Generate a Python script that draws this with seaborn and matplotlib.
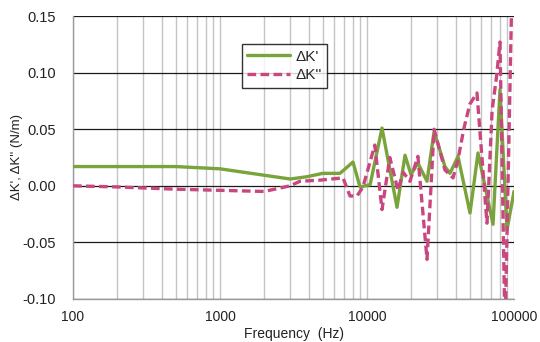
import matplotlib
matplotlib.use("Agg")
import matplotlib.pyplot as plt
import seaborn as sns
import pandas as pd
import numpy as np
from matplotlib.ticker import FixedLocator, FixedFormatter, LogLocator, NullFormatter

# ---- data ----
freq_k1 = [100, 500, 1000, 3000, 3900, 5000, 6550, 8030, 8960, 10500, 12650, 16000,
           18140, 19900, 22200, 25600, 28600, 33900, 36700, 41600, 50200, 56900,
           72000, 80300, 89600, 100000]
dk1 = [0.017, 0.017, 0.015, 0.006, 0.008, 0.011, 0.011, 0.021, -0.001, 0.001, 0.051, -0.019,
       0.027, 0.010, 0.020, 0.004, 0.048, 0.017, 0.011, 0.026, -0.024, 0.029,
       -0.034, 0.085, -0.039, -0.005]

freq_k2 = [100, 200, 500, 1000, 2000, 3000, 3500, 4800, 6870, 7660, 8550, 9390, 11300,
           12650, 14300, 16250, 17600, 19600, 22200, 25600, 28600, 33900, 38500, 41600,
           45500, 50000, 56000, 65500, 71000, 76000, 80300, 86900, 96500]
dk2 = [0.0, -0.001, -0.003, -0.004, -0.005, 0.0, 0.004, 0.005, 0.007, -0.009, -0.009, -0.001, 0.036,
       -0.021, 0.025, -0.004, 0.012, 0.004, 0.026, -0.065, 0.050, 0.014, 0.007, 0.023,
       0.050, 0.072, 0.082, -0.033, 0.067, 0.096, 0.127, -0.13, 0.165]

series_names = ["\u0394K'", "\u0394K''"]
x_ticks = [100, 1000, 10000, 100000]
x_tick_labels = ["100", "1000", "10000", "100000"]
y_ticks = [-0.10, -0.05, 0.00, 0.05, 0.10, 0.15]
y_tick_labels = ["-0.10", "-0.05", "0.00", "0.05", "0.10", "0.15"]

df = pd.concat([
    pd.DataFrame({"f": freq_k1, "v": dk1, "s": series_names[0]}),
    pd.DataFrame({"f": freq_k2, "v": dk2, "s": series_names[1]}),
], ignore_index=True)

sns.set_style("white")
plt.rcParams["font.family"] = ["Liberation Sans", "DejaVu Sans"]

fig = plt.figure(figsize=(5.4, 3.42), dpi=100)
ax = fig.add_axes([73/540, 1-299/342, (514-73)/540, (299-16)/342])

green = "#79A33B"
magenta = "#C9477F"

sns.lineplot(data=df, x="f", y="v", hue="s", style="s",
             palette={series_names[0]: green, series_names[1]: magenta},
             dashes={series_names[0]: "", series_names[1]: (2.6, 1.3)},
             linewidth=2.4, estimator=None, sort=False, ax=ax, zorder=3)

ax.set_xscale("log")
ax.set_xlim(100, 100000)
ax.set_ylim(-0.10, 0.15)

ax.xaxis.set_major_locator(FixedLocator(x_ticks))
ax.xaxis.set_major_formatter(FixedFormatter(x_tick_labels))
ax.xaxis.set_minor_locator(LogLocator(base=10, subs=np.arange(2, 10)))
ax.xaxis.set_minor_formatter(NullFormatter())
ax.yaxis.set_major_locator(FixedLocator(y_ticks))
ax.yaxis.set_major_formatter(FixedFormatter(y_tick_labels))

ax.grid(True, which="both", axis="x", color="#c4c4c4", linewidth=1.0)
ax.grid(True, which="major", axis="y", color="#1a1a1a", linewidth=0.9)
ax.set_axisbelow(True)

for side in ["top", "right"]:
    ax.spines[side].set_visible(False)
for side in ["left", "bottom"]:
    ax.spines[side].set_color("#9a9a9a")
    ax.spines[side].set_linewidth(1.0)

ax.tick_params(axis="y", which="major", direction="out", length=4, color="#9a9a9a",
               labelsize=10.5, labelcolor="#222222", pad=8)
ax.tick_params(axis="x", which="minor", length=0)
ax.tick_params(axis="x", which="major", length=0, pad=8, labelsize=10, labelcolor="#222222")

ax.set_xlabel("Frequency  (Hz)", fontsize=10, color="#222222", labelpad=2)
ax.set_ylabel("\u0394K', \u0394K'' (N/m)", fontsize=9.5, color="#222222", labelpad=0)

leg = ax.legend(loc="upper left", bbox_to_anchor=(0.383, 0.9), frameon=True,
                fancybox=False, edgecolor="#000000", fontsize=11, handlelength=2.8,
                handletextpad=0.35, borderpad=0.35, labelspacing=0.3, borderaxespad=0)
leg.get_frame().set_linewidth(1.0)
leg.set_title(None)

fig.savefig("out.png", dpi=100)
